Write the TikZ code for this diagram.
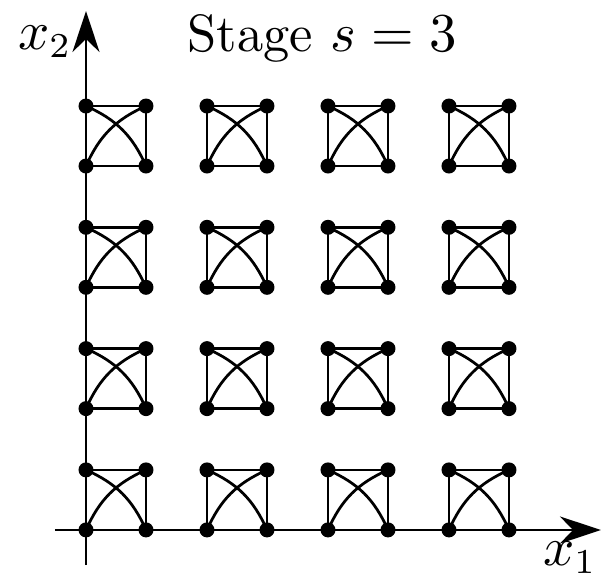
\documentclass[tikz,border=0pt]{standalone}
\usetikzlibrary{arrows.meta}
\begin{document}
\begin{tikzpicture}[x=0.2pt,y=-0.2pt,
  dot/.style={circle,fill=black,inner sep=0pt,minimum size=3pt},
  edge/.style={line width=0.55pt},
  axis/.style={line width=0.55pt,-{Stealth[length=8.2pt,width=5.4pt,inset=2.6pt]}}]
\useasboundingbox (0,0) rectangle (605,577);
\coordinate (xs) at (55,530);
\coordinate (xe) at (601,530);
\coordinate (ys) at (86,565);
\coordinate (ye) at (86,11);
\draw[axis] (xs) -- (xe);
\draw[axis] (ys) -- (ye);
\node[font=\fontsize{10.5}{12}\selectfont] (lx1) at (570,558) {$x_1$};
\node[font=\fontsize{10.5}{12}\selectfont] (lx2) at (45,42) {$x_2$};
\node[font=\fontsize{10.5}{12}\selectfont] (title) at (322,38) {Stage $s=3$};
\foreach \i in {0,...,3}{
  \foreach \j in {0,...,3}{
    \pgfmathsetmacro{\xa}{86+121*\i}
    \pgfmathsetmacro{\ya}{106+121.3*\j}
    \node[dot] (tl\i\j) at (\xa,\ya) {};
    \node[dot] (tr\i\j) at (\xa+60,\ya) {};
    \node[dot] (bl\i\j) at (\xa,\ya+60) {};
    \node[dot] (br\i\j) at (\xa+60,\ya+60) {};
    \draw[edge] (tl\i\j.center) -- (tr\i\j.center) -- (br\i\j.center) -- (bl\i\j.center) -- cycle;
    \draw[edge] (bl\i\j.center) to[bend left=21] (tr\i\j.center);
    \draw[edge] (tl\i\j.center) to[bend left=21] (br\i\j.center);
  }
}
\end{tikzpicture}
\end{document}
